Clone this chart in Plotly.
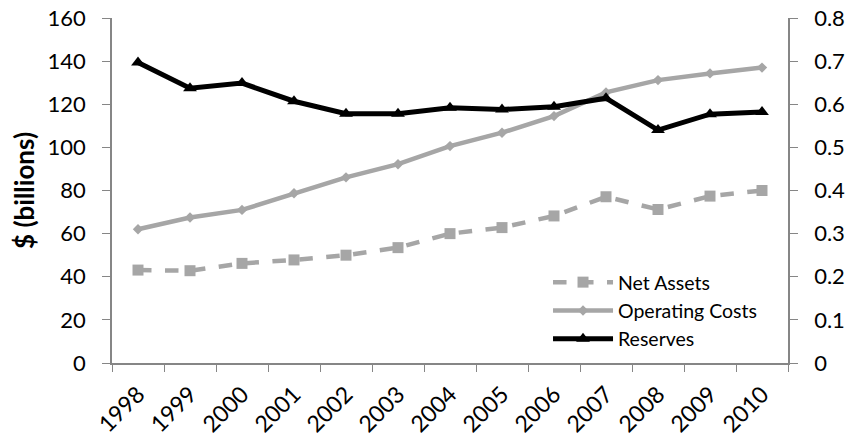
import plotly.graph_objects as go

years = ["1998", "1999", "2000", "2001", "2002", "2003", "2004",
         "2005", "2006", "2007", "2008", "2009", "2010"]
net_assets = [43.1, 42.8, 46.2, 47.8, 50.0, 53.5, 60.0, 62.8, 68.2, 77.1, 71.2, 77.4, 80.0]
operating_costs = [62.0, 67.5, 71.0, 78.7, 86.1, 92.2, 100.6, 106.8, 114.5, 125.5, 131.2, 134.3, 137.0]
reserves = [0.697, 0.637, 0.649, 0.607, 0.578, 0.578, 0.592, 0.588, 0.594, 0.614, 0.540, 0.577, 0.582]

GRAY = "#A6A6A6"
AXIS = "#868686"
FONT = "Lato"

fig = go.Figure()
fig.add_trace(go.Scatter(
    x=years, y=net_assets, name="Net Assets", mode="lines+markers",
    line=dict(color=GRAY, width=4.5, dash="dash"),
    marker=dict(symbol="square", size=11, color=GRAY),
))
fig.add_trace(go.Scatter(
    x=years, y=operating_costs, name="Operating Costs", mode="lines+markers",
    line=dict(color=GRAY, width=4.5),
    marker=dict(symbol="diamond", size=8, color=GRAY),
))
fig.add_trace(go.Scatter(
    x=years, y=reserves, name="Reserves", mode="lines+markers", yaxis="y2",
    line=dict(color="black", width=5),
    marker=dict(symbol="triangle-up", size=12, color="black"),
))

fig.update_layout(
    width=860, height=437,
    margin=dict(l=112, r=72, t=18, b=74),
    paper_bgcolor="white", plot_bgcolor="white",
    font=dict(family=FONT, color="black", size=22),
    xaxis=dict(
        type="category", tickson="boundaries", ticks="outside", ticklen=7,
        tickcolor=AXIS, showline=True, linecolor=AXIS, linewidth=1.5,
        showgrid=False, tickangle=-45, tickfont=dict(size=23),
        ticklabelstandoff=7, range=[-0.5, 12.5], automargin=False,
    ),
    yaxis=dict(
        range=[0, 160], dtick=20, ticks="outside", ticklen=8, tickcolor=AXIS,
        showline=True, linecolor=AXIS, linewidth=1.5, showgrid=False,
        zeroline=False, tickfont=dict(size=22), ticklabelstandoff=12,
        automargin=False,
        title=dict(text="<b>$ (billions)</b>", font=dict(size=26), standoff=5),
    ),
    yaxis2=dict(
        overlaying="y", side="right", range=[0, 0.8], dtick=0.1,
        ticks="outside", ticklen=8, tickcolor=AXIS, showline=True,
        linecolor=AXIS, linewidth=1.5, showgrid=False, zeroline=False,
        tickfont=dict(size=22), ticklabelstandoff=12, automargin=False,
    ),
    legend=dict(
        x=0.645, y=0.29, xanchor="left", yanchor="top",
        bgcolor="rgba(0,0,0,0)", font=dict(size=19.5),
        tracegroupgap=0, itemwidth=60,
    ),
    showlegend=True,
)

fig.write_html("out.html")
